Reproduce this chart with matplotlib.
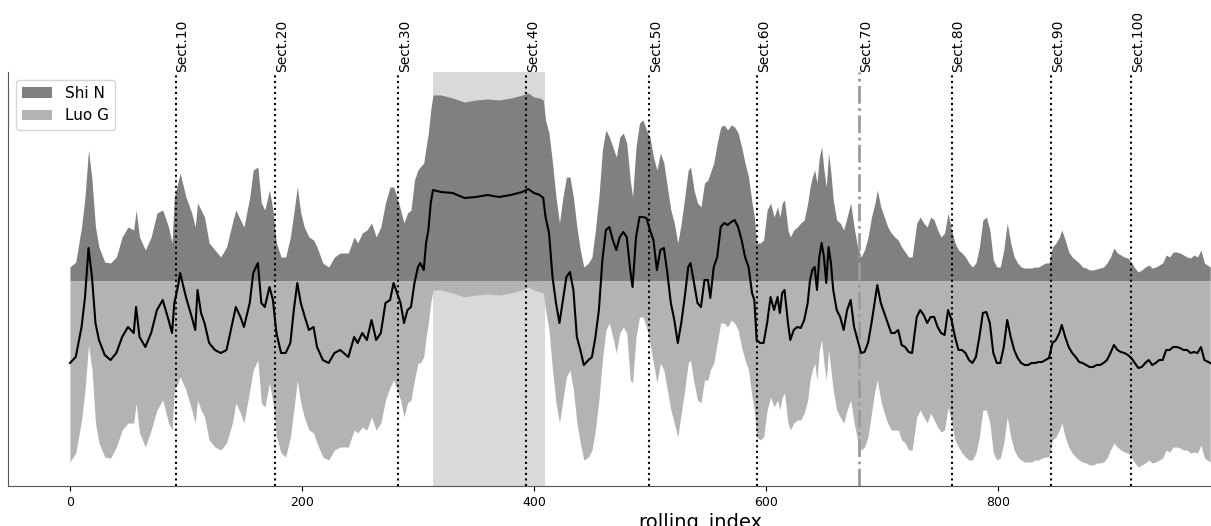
import matplotlib
matplotlib.use('Agg')
import matplotlib.pyplot as plt
import matplotlib.transforms as mtransforms

# ---------------- data ----------------
rolling_index = [
    0, 5, 10, 13, 16, 19, 22, 25, 30, 35,
    40, 45, 50, 55, 57, 60, 65, 70, 75, 80,
    85, 88, 90, 93, 95, 100, 105, 108, 110, 113,
    116, 120, 125, 130, 135, 140, 143, 147, 150, 155,
    158, 162, 165, 168, 172, 175, 178, 182, 186, 190,
    193, 196, 199, 202, 206, 210, 213, 218, 223, 228,
    233,
    240, 245, 248, 252, 256, 260, 264, 268, 272, 276,
    279, 282, 285, 288, 291, 294, 297, 300, 302, 305,
    307, 309, 311, 313, 320, 330, 340, 350, 360, 370,
    380, 390, 395, 400, 405, 408, 410, 413, 416, 419,
    422, 425, 428, 431, 434, 437, 440, 443, 447, 450,
    453, 456, 459, 462, 465, 468, 471, 474, 477, 480,
    483, 485, 488, 491, 494, 497, 500, 503, 506, 509,
    512, 515, 518, 521, 524, 527, 530, 533, 535, 538,
    541, 544, 547, 550, 552, 555, 558, 561, 564, 567,
    570, 573, 576, 579, 582, 585, 588, 590, 592, 595,
    598, 601, 604, 607, 610, 612, 614, 616, 619, 621,
    624, 627, 630, 633, 636, 638, 640, 642, 644, 646,
    648, 650, 652, 654, 656, 658, 661, 664, 667, 670,
    673, 676, 679, 682, 685, 688, 691, 694, 696, 699,
    702, 705, 708, 711, 714, 717, 720, 723, 726,
    730, 733, 736, 739, 742, 745, 748, 751, 754, 757,
    760, 763, 766, 769, 772, 775, 778, 781, 784, 787,
    790, 793, 796, 799, 802, 805, 808, 811, 814, 817,
    820, 823, 826, 829, 832, 835, 838, 841, 844, 847,
    850, 853, 855, 858, 861, 864, 867, 870, 873, 876,
    879, 882, 885, 888, 891, 894, 897, 900, 903, 906,
    909, 912, 915, 918, 921, 924, 927, 930, 933, 936,
    939, 942, 945, 948, 951, 954, 957, 960, 963, 966,
    969, 972, 975, 978, 983,
]

shi_n = [
    14, 19, 54, 84, 131, 101, 54, 34, 19, 18,
    24, 44, 54, 51, 71, 44, 31, 44, 68, 71,
    54, 38, 84, 98, 108, 84, 68, 54, 78, 71,
    64, 38, 31, 24, 34, 58, 71, 61, 54, 84,
    111, 114, 78, 71, 91, 71, 38, 24, 24, 44,
    68, 94, 68, 54, 44, 41, 34, 18, 14, 24,
    28,
    28, 44, 38, 48, 51, 58, 44, 54, 78, 94,
    94, 84, 71, 58, 68, 71, 101, 111, 114, 118,
    134, 148, 171, 186, 186, 183, 179, 181, 182, 181,
    183, 186, 188, 184, 183, 181, 161, 148, 118, 84,
    58, 84, 104, 104, 84, 54, 31, 14, 18, 24,
    51, 84, 131, 151, 144, 134, 124, 144, 148, 138,
    101, 84, 134, 158, 161, 151, 144, 124, 111, 128,
    118, 94, 71, 58, 38, 58, 84, 111, 114, 91,
    78, 74, 98, 101, 108, 118, 138, 154, 156, 151,
    156, 154, 148, 134, 118, 104, 78, 64, 38, 38,
    41, 71, 78, 64, 74, 64, 78, 81, 51, 44,
    51, 54, 58, 61, 78, 94, 104, 111, 98, 124,
    134, 111, 94, 128, 108, 81, 61, 58, 51, 64,
    78, 54, 34, 24, 31, 44, 64, 78, 91, 74,
    64, 54, 48, 44, 41, 34, 29, 24, 24,
    58, 64, 58, 54, 64, 61, 51, 44, 48, 68,
    51, 38, 31, 28, 24, 18, 14, 18, 34, 61,
    64, 51, 21, 14, 14, 31, 58, 38, 24, 18,
    14, 13, 13, 13, 14, 14, 16, 18, 18, 34,
    38, 44, 51, 41, 29, 24, 21, 18, 14, 13,
    11, 11, 12, 13, 14, 18, 24, 33, 28, 26,
    24, 23, 19, 13, 9, 11, 14, 16, 13, 14,
    16, 18, 26, 24, 29, 29, 28, 26, 24, 23,
    26, 24, 31, 18, 14,
]

luo_g = [
    181, 172, 139, 109, 64, 89, 142, 162, 176, 177,
    166, 149, 142, 142, 122, 152, 166, 149, 129, 119,
    142, 149, 109, 102, 96, 109, 129, 142, 119, 129,
    136, 159, 166, 169, 162, 142, 122, 132, 142, 109,
    89, 79, 122, 126, 102, 122, 156, 172, 176, 156,
    129, 99, 122, 136, 149, 152, 162, 176, 179, 169,
    166,
    166, 149, 152, 146, 149, 136, 149, 142, 119, 106,
    99, 109, 119, 136, 122, 119, 99, 82, 82, 76,
    56, 42, 22, 9, 9, 12, 16, 14, 13, 14,
    12, 9, 6, 9, 11, 12, 29, 49, 89, 122,
    142, 119, 96, 89, 109, 142, 162, 179, 176, 169,
    149, 119, 79, 49, 42, 56, 72, 52, 46, 52,
    99, 102, 56, 36, 36, 46, 62, 82, 102, 82,
    89, 109, 129, 142, 156, 132, 109, 82, 79, 102,
    119, 122, 99, 99, 89, 82, 62, 42, 42, 46,
    39, 42, 49, 66, 79, 89, 116, 129, 156, 159,
    156, 129, 116, 126, 119, 129, 116, 112, 142, 149,
    142, 139, 139, 132, 119, 99, 89, 82, 99, 69,
    59, 82, 99, 69, 89, 109, 129, 136, 142, 129,
    119, 142, 159, 169, 166, 156, 132, 109, 99, 119,
    132, 142, 149, 149, 149, 159, 162, 169, 169,
    136, 129, 136, 142, 132, 139, 146, 151, 149, 126,
    142, 159, 166, 172, 176, 179, 179, 172, 156, 129,
    129, 142, 172, 179, 177, 162, 136, 156, 169, 176,
    179, 181, 181, 181, 179, 179, 177, 176, 176, 159,
    156, 149, 142, 156, 166, 172, 176, 179, 181, 182,
    184, 184, 182, 182, 181, 177, 169, 162, 166, 169,
    171, 172, 176, 182, 186, 184, 182, 179, 182, 181,
    179, 177, 169, 171, 166, 166, 167, 169, 169, 172,
    171, 172, 164, 177, 181,
]

balance = [
    -82, -76, -46, -16, 33, 4, -42, -59, -74, -79,
    -72, -56, -46, -52, -26, -56, -66, -52, -29, -19,
    -39, -52, -22, -6, 8, -16, -36, -49, -9, -32,
    -42, -62, -69, -72, -69, -42, -26, -36, -46, -22,
    8, 18, -22, -26, -6, -19, -52, -72, -72, -62,
    -29, -2, -22, -34, -49, -46, -66, -79, -82, -72,
    -69,
    -76, -56, -62, -52, -59, -39, -59, -52, -22, -19,
    -2, -12, -22, -42, -29, -26, -2, 14, 18, 11,
    38, 51, 78, 91, 89, 88, 83, 84, 86, 84,
    86, 89, 92, 88, 86, 83, 64, 48, 4, -22,
    -42, -19, 4, 9, -9, -56, -69, -84, -79, -76,
    -56, -29, 21, 51, 54, 41, 31, 44, 49, 44,
    11, -6, 44, 64, 64, 63, 51, 41, 11, 31,
    33, 8, -22, -39, -62, -42, -16, 14, 18, -2,
    -22, -26, 1, 1, -17, 14, 24, 54, 58, 56,
    59, 61, 54, 41, 24, 14, -12, -19, -59, -62,
    -62, -42, -16, -29, -16, -32, -12, -9, -42, -59,
    -49, -46, -47, -39, -22, 1, 11, 14, -9, 24,
    38, 24, -2, 34, 18, -9, -29, -36, -49, -29,
    -19, -46, -59, -72, -71, -62, -42, -19, -4, -22,
    -32, -42, -52, -52, -49, -64, -66, -71, -72,
    -36, -29, -34, -42, -36, -36, -46, -52, -54, -29,
    -39, -56, -69, -69, -72, -79, -82, -76, -56, -32,
    -31, -42, -72, -82, -82, -66, -39, -56, -69, -77,
    -82, -84, -84, -82, -82, -81, -81, -79, -77, -62,
    -59, -52, -44, -56, -66, -72, -76, -81, -82, -84,
    -86, -86, -84, -84, -82, -79, -72, -64, -69, -71,
    -72, -74, -77, -82, -87, -86, -82, -79, -84, -82,
    -79, -79, -69, -69, -66, -66, -67, -69, -69, -72,
    -71, -72, -66, -79, -82,
]

sect_labels = ['Sect.10', 'Sect.20', 'Sect.30', 'Sect.40', 'Sect.50',
               'Sect.60', 'Sect.70', 'Sect.80', 'Sect.90', 'Sect.100']
sect_positions = [91, 177, 283, 393, 499, 592, 680, 760, 846, 915]
special_sect = 'Sect.70'
highlight_span = (313, 409.5)
x_ticks = [0, 200, 400, 600, 800]

assert len(rolling_index) == len(shi_n) == len(luo_g) == len(balance), (
    len(rolling_index), len(shi_n), len(luo_g), len(balance))

# ---------------- figure ----------------
W, H = 1211, 526
fig = plt.figure(figsize=(W / 100, H / 100), dpi=100)
ax_left, ax_right, ax_top, ax_bottom = 8, 1392, 72, 486
ax = fig.add_axes([ax_left / W, 1 - ax_bottom / H,
                   (ax_right - ax_left) / W, (ax_bottom - ax_top) / H])

ax.axvspan(*highlight_span, color='#d9d9d9', zorder=0, lw=0)
ax.fill_between(rolling_index, 0, shi_n, color='#808080', lw=0,
                label='Shi N', zorder=1)
ax.fill_between(rolling_index, 0, [-v for v in luo_g], color='#b3b3b3',
                lw=0, label='Luo G', zorder=1)
ax.plot(rolling_index, balance, color='black', lw=1.5, zorder=4)

trans = mtransforms.blended_transform_factory(ax.transData, ax.transAxes)
for lab, pos in zip(sect_labels, sect_positions):
    if lab == special_sect:
        ax.axvline(pos, color='#9a9a9a', ls='-.', lw=2, zorder=3)
    else:
        ax.axvline(pos, color='black', ls=':', lw=1.5, zorder=3)
    ax.text(pos, 1.0, lab, transform=trans, rotation=90, ha='left',
            va='bottom', fontsize=10)

ax.set_xlim(-53.4, 1139.7)
ax.set_ylim(-205, 209)
ax.set_xticks(x_ticks)
ax.set_yticks([])
ax.tick_params(axis='x', labelsize=9)
ax.set_xlabel('rolling_index', fontsize=14, labelpad=3)
for s in ('top', 'right'):
    ax.spines[s].set_visible(False)
for s in ('left', 'bottom'):
    ax.spines[s].set_color('#555555')

ax.legend(loc='upper left', fontsize=11)

fig.savefig('out.png', dpi=100)
